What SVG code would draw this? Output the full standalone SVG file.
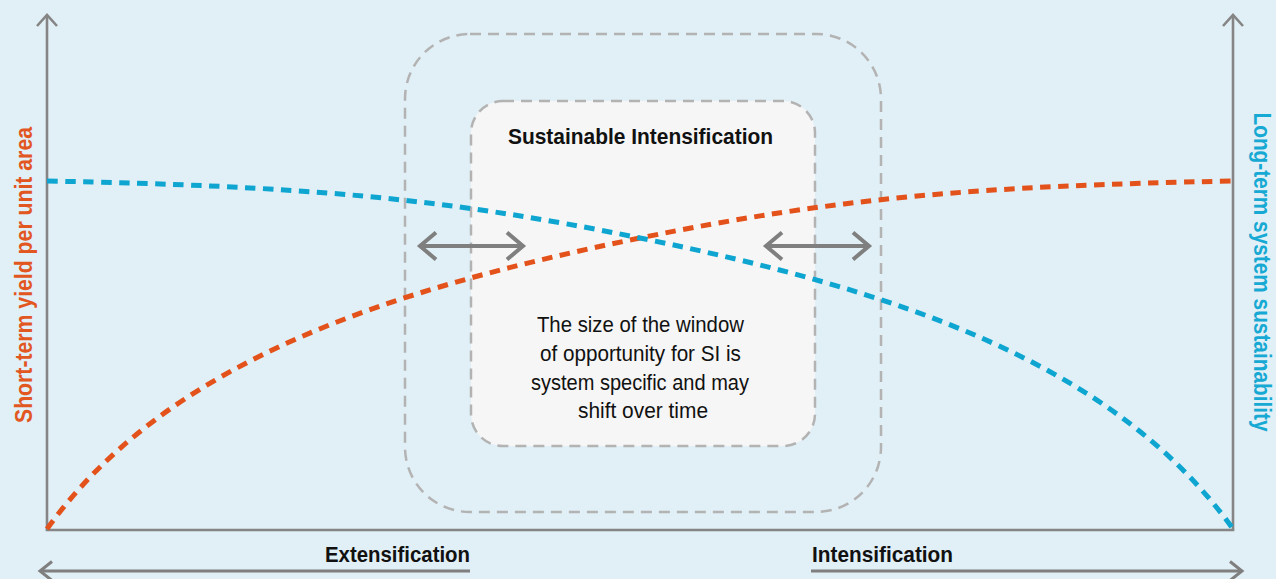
<svg xmlns="http://www.w3.org/2000/svg" width="1276" height="579" viewBox="0 0 1276 579">
<defs>
<style>
.bg{fill:#e1eff6}
.axis{stroke:#858585;stroke-width:2.6;fill:none}
.win{fill:none;stroke:#b3b3b3;stroke-width:2.5;stroke-dasharray:11 7}
.si{fill:#f6f6f6;stroke:#b3b3b3;stroke-width:2.5;stroke-dasharray:11 7}
.curve{fill:none;stroke-width:5;stroke-dasharray:10.5 7.5}
.yield{stroke:#e4521b}
.sust{stroke:#0ea6d0}
.shift{stroke:#7f7f7f;stroke-width:4;fill:none}
.dir{stroke:#7f7f7f;stroke-width:3;fill:none}
text{font-family:"Liberation Sans",Arial,sans-serif}
.hd{font-weight:bold;font-size:22px;fill:#111}
.body{font-size:22px;fill:#111}
.lab{font-weight:bold;font-size:23px}
</style>
<marker id="axhead" markerUnits="userSpaceOnUse" markerWidth="30" markerHeight="30" refX="0" refY="0" viewBox="-15 -15 30 30" orient="auto" overflow="visible">
<path d="M-11,-10 L0,0 L-11,10" fill="none" stroke="#858585" stroke-width="2.6"/>
</marker>
<marker id="dirhead" markerUnits="userSpaceOnUse" markerWidth="30" markerHeight="30" refX="0" refY="0" viewBox="-15 -15 30 30" orient="auto" overflow="visible">
<path d="M-12,-9.5 L0,0 L-12,9.5" fill="none" stroke="#7f7f7f" stroke-width="3"/>
</marker>
<marker id="shifthead" markerUnits="userSpaceOnUse" markerWidth="40" markerHeight="40" refX="0" refY="0" viewBox="-20 -20 40 40" orient="auto-start-reverse" overflow="visible">
<path d="M-16,-13.5 L0,0 L-16,13.5" fill="none" stroke="#7f7f7f" stroke-width="4"/>
</marker>
</defs>
<rect class="bg" x="0" y="0" width="1276" height="579"/>

<g id="window">
<rect class="win" x="405" y="34" width="476" height="478" rx="65" ry="65"/>
</g>
<g id="sustainable-intensification">
<rect class="si" x="471" y="101" width="344" height="345" rx="32" ry="32"/>
<text class="hd" x="640.5" y="144" text-anchor="middle" textLength="265" lengthAdjust="spacingAndGlyphs">Sustainable Intensification</text>
<text class="body" text-anchor="middle">
<tspan x="643.5" y="332" textLength="207" lengthAdjust="spacingAndGlyphs">The size of the window</tspan>
<tspan x="643.5" y="361" textLength="201" lengthAdjust="spacingAndGlyphs">of opportunity for SI is</tspan>
<tspan x="643" y="390" textLength="218" lengthAdjust="spacingAndGlyphs">system specific and may</tspan>
<tspan x="643" y="418" textLength="130" lengthAdjust="spacingAndGlyphs">shift over time</tspan>
</text>
</g>

<g id="axes">
<path class="axis" d="M47,530 L47,15" marker-end="url(#axhead)"/>
<path class="axis" d="M1233,530 L1233,15" marker-end="url(#axhead)"/>
<path class="axis" d="M45.7,530 L1234.3,530"/>
</g>

<g id="connectors">
<path class="curve yield" d="M47,529 C167,361 390,289 640,238 C840,197 983,186 1233,181"/>
<path class="curve sust" d="M47,181 C297,186 440,197 640,238 C890,289 1113,361 1233,529"/>
<path class="shift" d="M420,246 L523,246" marker-start="url(#shifthead)" marker-end="url(#shifthead)"/>
<path class="shift" d="M766,246 L869,246" marker-start="url(#shifthead)" marker-end="url(#shifthead)"/>
<path class="dir" d="M470,571 L40,571" marker-end="url(#dirhead)"/>
<path class="dir" d="M811,571 L1242,571" marker-end="url(#dirhead)"/>
</g>

<g id="axis-labels">
<text class="lab" fill="#e2561f" transform="translate(32,275) rotate(-90)" text-anchor="middle" textLength="296" lengthAdjust="spacingAndGlyphs">Short-term yield per unit area</text>
<text class="lab" fill="#16a9d3" transform="translate(1254,272) rotate(90)" text-anchor="middle" textLength="319" lengthAdjust="spacingAndGlyphs">Long-term system sustainability</text>
<text class="hd" x="470" y="562" text-anchor="end" textLength="145" lengthAdjust="spacingAndGlyphs">Extensification</text>
<text class="hd" x="812" y="562" textLength="141" lengthAdjust="spacingAndGlyphs">Intensification</text>
</g>
</svg>
